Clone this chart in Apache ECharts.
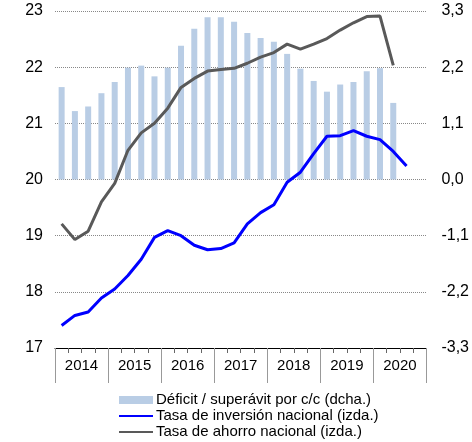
<!DOCTYPE html>
<html>
<head>
<meta charset="utf-8">
<script src="https://cdn.jsdelivr.net/npm/echarts@6/dist/echarts.min.js"></script>
<style>
  html, body { margin: 0; padding: 0; background: #fff; }
  #main { width: 472px; height: 442px; }
</style>
</head>
<body>
<div id="main"></div>
<script>
// trimestres 2014T1 .. 2020T4
var years = ['2014', '2015', '2016', '2017', '2018', '2019', '2020'];
var quarters = [];
years.forEach(function (y) {
  for (var q = 1; q <= 4; q++) quarters.push(y + 'T' + q);
});

// Déficit / superávit por c/c (% PIB, eje dcho.)
var cuentaCorriente = [1.81, 1.34, 1.43, 1.69, 1.91, 2.19, 2.23, 2.02, 2.19, 2.62,
  2.95, 3.18, 3.18, 3.09, 2.87, 2.77, 2.70, 2.46, 2.17, 1.93,
  1.72, 1.86, 1.91, 2.12, 2.18, 1.50];

// Tasa de inversión nacional (eje izdo.)
var inversion = [17.40, 17.58, 17.64, 17.89, 18.05, 18.29, 18.58, 18.97, 19.09, 19.00,
  18.83, 18.75, 18.77, 18.87, 19.21, 19.41, 19.55, 19.95, 20.13, 20.46,
  20.77, 20.78, 20.87, 20.77, 20.71, 20.50, 20.24];

// Tasa de ahorro nacional (eje izdo.)
var ahorro = [19.21, 18.93, 19.08, 19.60, 19.93, 20.52, 20.83, 21.00, 21.27, 21.64,
  21.80, 21.93, 21.96, 21.98, 22.07, 22.18, 22.26, 22.41, 22.32, 22.41,
  22.51, 22.66, 22.79, 22.90, 22.91, 22.03];

var font = 'Liberation Sans, Arial, sans-serif';
var chart = echarts.init(document.getElementById('main'));

chart.setOption({
  animation: false,
  textStyle: { fontFamily: font },
  grid: { left: 55, right: 45, top: 11, bottom: 94 },
  legend: {
    orient: 'vertical',
    left: 118,
    top: 392,
    height: 50,
    padding: 0,
    itemWidth: 34,
    itemHeight: 8,
    itemGap: 0,
    textStyle: { fontSize: 15, color: '#000', lineHeight: 16, padding: [0, 0, 0, -2] },
    data: [
      { name: 'Déficit / superávit por c/c (dcha.)', icon: 'rect' },
      { name: 'Tasa de inversión nacional (izda.)', itemStyle: { opacity: 0 } },
      { name: 'Tasa de ahorro nacional (izda.)', itemStyle: { opacity: 0 } }
    ]
  },
  xAxis: [
    {
      type: 'category',
      data: quarters,
      position: 'bottom',
      axisLine: { show: true, onZero: false, lineStyle: { color: '#000', width: 1 } },
      axisTick: { show: true, interval: 0, length: 5, lineStyle: { color: '#666' } },
      axisLabel: { show: false }
    },
    {
      type: 'category',
      data: years,
      position: 'bottom',
      axisLine: { show: false, onZero: false },
      axisTick: { show: true, interval: 0, length: 35, lineStyle: { color: '#999' } },
      axisLabel: { interval: 0, margin: 10, fontSize: 15, color: '#000' }
    }
  ],
  yAxis: [
    {
      type: 'value',
      min: 17,
      max: 23,
      interval: 1,
      axisLine: { show: false },
      axisTick: { show: false },
      axisLabel: { margin: 12, fontSize: 16, color: '#000' },
      splitLine: { lineStyle: { type: 'dotted', color: '#888', width: 1 } }
    },
    {
      type: 'value',
      min: -3.3,
      max: 3.3,
      interval: 1.1,
      axisLine: { show: false },
      axisTick: { show: false },
      splitLine: { show: false },
      axisLabel: {
        margin: 15,
        fontSize: 16,
        color: '#000',
        formatter: function (v) { return v.toFixed(1).replace('.', ','); }
      }
    }
  ],
  series: [
    {
      name: 'Déficit / superávit por c/c (dcha.)',
      type: 'bar',
      xAxisIndex: 0,
      yAxisIndex: 1,
      barWidth: 6,
      itemStyle: { color: '#b9cde5' },
      data: cuentaCorriente
    },
    {
      name: 'Tasa de inversión nacional (izda.)',
      type: 'line',
      xAxisIndex: 0,
      yAxisIndex: 0,
      symbol: 'none',
      lineStyle: { color: '#0000ff', width: 3 },
      itemStyle: { color: '#0000ff' },
      data: inversion
    },
    {
      name: 'Tasa de ahorro nacional (izda.)',
      type: 'line',
      xAxisIndex: 0,
      yAxisIndex: 0,
      symbol: 'none',
      lineStyle: { color: '#595959', width: 3 },
      itemStyle: { color: '#595959' },
      data: ahorro
    }
  ]
});
</script>
</body>
</html>
